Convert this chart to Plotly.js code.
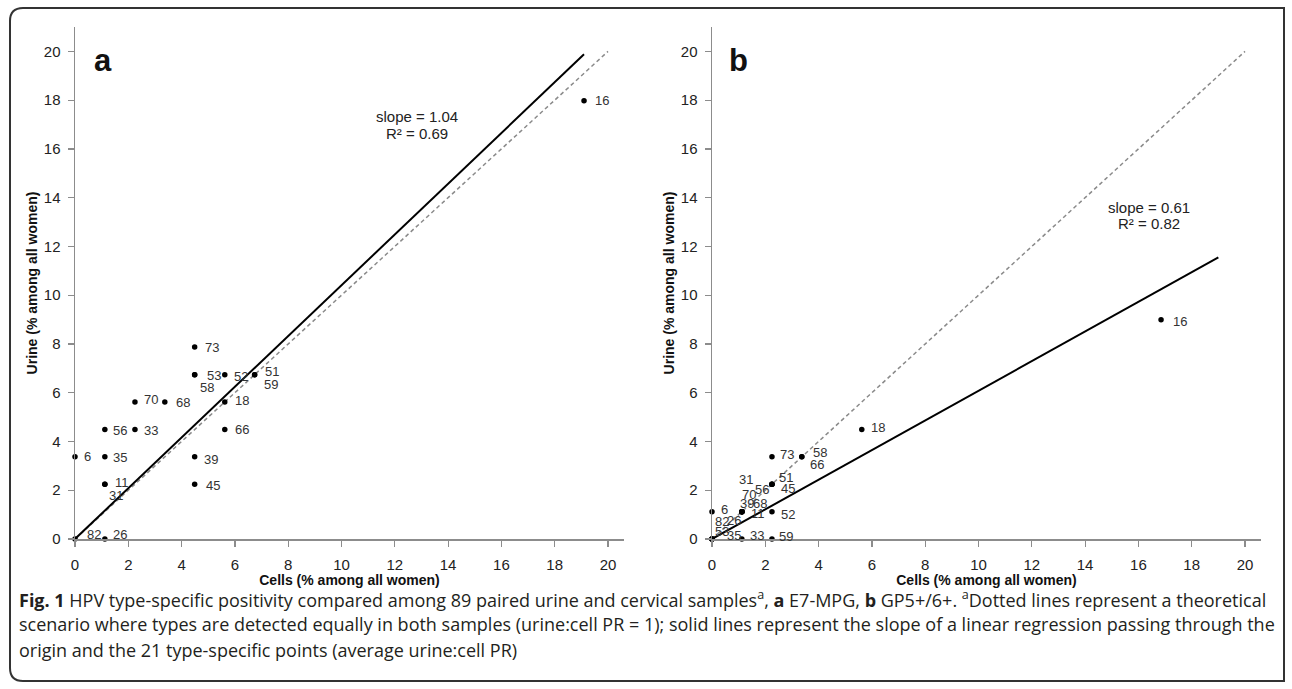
<!DOCTYPE html>
<html>
<head>
<meta charset="utf-8">
<script src="https://cdn.plot.ly/plotly-3.0.1.min.js"></script>
<style>html,body{margin:0;padding:0;background:#fff}#chart{width:1292px;height:689px}</style>
</head>
<body>
<div id="chart"></div>
<script>
// HPV types (same order for both panels)
const types  = ['16','18','31','33','35','39','45','51','52','56','58','59','66','68','70','73','82','6','11','26','53'];
// Panel a: E7-MPG
const cellsA = [19.10,5.62,1.12,2.25,1.12,4.49,4.49,6.74,5.62,1.12,4.49,6.74,5.62,3.37,2.25,4.49,0,0,1.12,1.12,4.49];
const urineA = [17.98,5.62,2.25,4.49,3.37,3.37,2.25,6.74,6.74,4.49,6.74,6.74,4.49,5.62,5.62,7.87,0,3.37,2.25,0,6.74];
// Panel b: GP5+/6+
const cellsB = [16.85,5.62,2.25,1.12,0,1.12,2.25,2.25,2.25,1.12,3.37,2.25,3.37,1.12,1.12,2.25,0,0,1.12,0,0];
const urineB = [8.99,4.49,2.25,0,0,1.12,2.25,2.25,1.12,1.12,3.37,0,3.37,1.12,1.12,3.37,0,1.12,1.12,0,0];
// Regression lines and equality lines
const regA_x = [0, 19.10], regA_y = [0, 19.88];
const regB_x = [0, 19.00], regB_y = [0, 11.55];
const eq_x = [0, 20], eq_y = [0, 20];
const statsA = ['slope = 1.04', 'R² = 0.69'];
const statsB = ['slope = 0.61', 'R² = 0.82'];
const xTitle = 'Cells (% among all women)';
const yTitle = 'Urine (% among all women)';
const captionLines = [
  '<b>Fig. 1</b> HPV type-specific positivity compared among 89 paired urine and cervical samples<sup>a</sup>, <b>a</b> E7-MPG, <b>b</b> GP5+/6+. <sup>a</sup>Dotted lines represent a theoretical',
  'scenario where types are detected equally in both samples (urine:cell PR = 1); solid lines represent the slope of a linear regression passing through the',
  'origin and the 21 type-specific points (average urine:cell PR)'
];

// ---- styles: label offsets in px [dx, dy(up)] ----
const offA = {'16':[10,0],'18':[9,1],'31':[3,-11],'33':[8,-1],'35':[7,-1],'39':[8,-3],'45':[10,-1],'51':[9,3],'52':[8,-2],'56':[7,-1],'58':[4,-13],'59':[8,-10],'66':[9,0],'68':[10,-1],'70':[8,2],'73':[9,0],'82':[11,5],'6':[8,0],'11':[9,2],'26':[7,5],'53':[11,-1]};
const offB = {'16':[11,-2],'18':[8,2],'31':[-34,5],'33':[7,4],'35':[14,4],'39':[-3,8],'45':[8,-4],'51':[6,7],'52':[8,-3],'56':[12,22],'58':[10,4],'59':[6,3],'66':[7,-8],'68':[10,8],'70':[-1,17],'73':[7,2],'82':[2,18],'6':[8,2],'11':[8,-2],'26':[14,19],'53':[2,8]};

const FONT = 'Liberation Sans, Arial, sans-serif';
const W = 1292, H = 689, ML = 75, MR = 31, MT = 27, MB = 150;
const PW = W - ML - MR, PH = H - MT - MB;
const px = p => (p - ML) / PW;
const py = p => (H - MB - p) / PH;

const traces = [];
function addPanel(cx, cy, rx, ry, xa, ya) {
  traces.push({x: eq_x, y: eq_y, xaxis: xa, yaxis: ya, mode: 'lines', line: {color: '#8a8a8a', width: 1.5, dash: '4px,3px'}, hoverinfo: 'skip', showlegend: false});
  traces.push({x: rx, y: ry, xaxis: xa, yaxis: ya, mode: 'lines', line: {color: '#000', width: 2}, hoverinfo: 'skip', showlegend: false});
  traces.push({x: cx, y: cy, xaxis: xa, yaxis: ya, mode: 'markers', marker: {color: '#000', size: 5.5}, text: types, showlegend: false, cliponaxis: false});
}
addPanel(cellsA, urineA, regA_x, regA_y, 'x', 'y');
addPanel(cellsB, urineB, regB_x, regB_y, 'x2', 'y2');

const annotations = [];
function addLabels(cx, cy, off, xr, yr) {
  types.forEach((t, i) => {
    annotations.push({x: cx[i], y: cy[i], xref: xr, yref: yr, text: t, showarrow: false,
      xanchor: 'left', yanchor: 'middle', xshift: off[t][0], yshift: off[t][1],
      font: {family: FONT, size: 13, color: '#333'}, borderpad: 0});
  });
}
addLabels(cellsA, urineA, offA, 'x', 'y');
addLabels(cellsB, urineB, offB, 'x2', 'y2');

// stats text
[[statsA, 'x', 'y', 12.83, [17.34, 16.64]], [statsB, 'x2', 'y2', 16.40, [13.61, 12.95]]].forEach(s => {
  s[0].forEach((txt, k) => annotations.push({x: s[3], y: s[4][k], xref: s[1], yref: s[2], text: txt, showarrow: false,
    xanchor: 'center', yanchor: 'middle', font: {family: FONT, size: 15, color: '#222'}}));
});
// panel letters
annotations.push({x: px(92), y: py(60.5), xref: 'paper', yref: 'paper', text: '<b>a</b>', showarrow: false, xanchor: 'left', yanchor: 'middle', font: {family: FONT, size: 31, color: '#111'}});
annotations.push({x: px(727), y: py(60.5), xref: 'paper', yref: 'paper', text: '<b>b</b>', showarrow: false, xanchor: 'left', yanchor: 'middle', font: {family: FONT, size: 31, color: '#111'}});
// caption
const capY = [599, 624, 650];
captionLines.forEach((t, k) => annotations.push({x: px(17), y: py(capY[k]), xref: 'paper', yref: 'paper', text: t, showarrow: false,
  xanchor: 'left', yanchor: 'middle', align: 'left', font: {family: 'Open Sans, sans-serif', size: 18, color: '#231f20'}}));

// rounded border
const bx0 = 10, bx1 = 1284, by0 = 8, by1 = 681, r = 13;
const P = (x, y) => px(x) + ',' + py(y);
const borderPath = 'M' + P(bx0 + r, by0) + ' L' + P(bx1, by0) + ' L' + P(bx1, by1) +
  ' L' + P(bx0 + r, by1) + ' Q' + P(bx0, by1) + ' ' + P(bx0, by1 - r) + ' L' + P(bx0, by0 + r) +
  ' Q' + P(bx0, by0) + ' ' + P(bx0 + r, by0) + ' Z';

function xax(domain, anchor) {
  return {domain: domain, anchor: anchor, range: [0, 20.6], tick0: 0, dtick: 2, showgrid: false, zeroline: false,
    showline: true, linecolor: '#8c8c8c', linewidth: 1.5, ticks: 'outside', ticklen: 6, tickwidth: 1.2, tickcolor: '#8c8c8c',
    tickfont: {family: FONT, size: 15, color: '#222'}, ticklabelstandoff: 5,
    title: {text: '<b>' + xTitle + '</b>', font: {family: FONT, size: 14, color: '#111'}, standoff: 1}};
}
function yax(anchor) {
  return {domain: [0, 1], anchor: anchor, range: [0, 21], tick0: 0, dtick: 2, showgrid: false, zeroline: false,
    showline: true, linecolor: '#8c8c8c', linewidth: 1.5, ticks: 'outside', ticklen: 6, tickwidth: 1.2, tickcolor: '#8c8c8c',
    tickfont: {family: FONT, size: 15, color: '#222'}, ticklabelstandoff: 4,
    title: {text: '<b>' + yTitle + '</b>', font: {family: FONT, size: 14, color: '#111'}, standoff: 3}};
}

const layout = {
  width: W, height: H, margin: {l: ML, r: MR, t: MT, b: MB},
  paper_bgcolor: '#fff', plot_bgcolor: '#fff', showlegend: false,
  xaxis: xax([0, 549 / PW], 'y'), yaxis: yax('x'),
  xaxis2: xax([(712 - ML) / PW, 1], 'y2'), yaxis2: yax('x2'),
  annotations: annotations,
  shapes: [{type: 'path', path: borderPath, xref: 'paper', yref: 'paper', line: {color: '#333', width: 2}, layer: 'below'}]
};
Plotly.newPlot('chart', traces, layout, {displayModeBar: false, staticPlot: true});
</script>
</body>
</html>
